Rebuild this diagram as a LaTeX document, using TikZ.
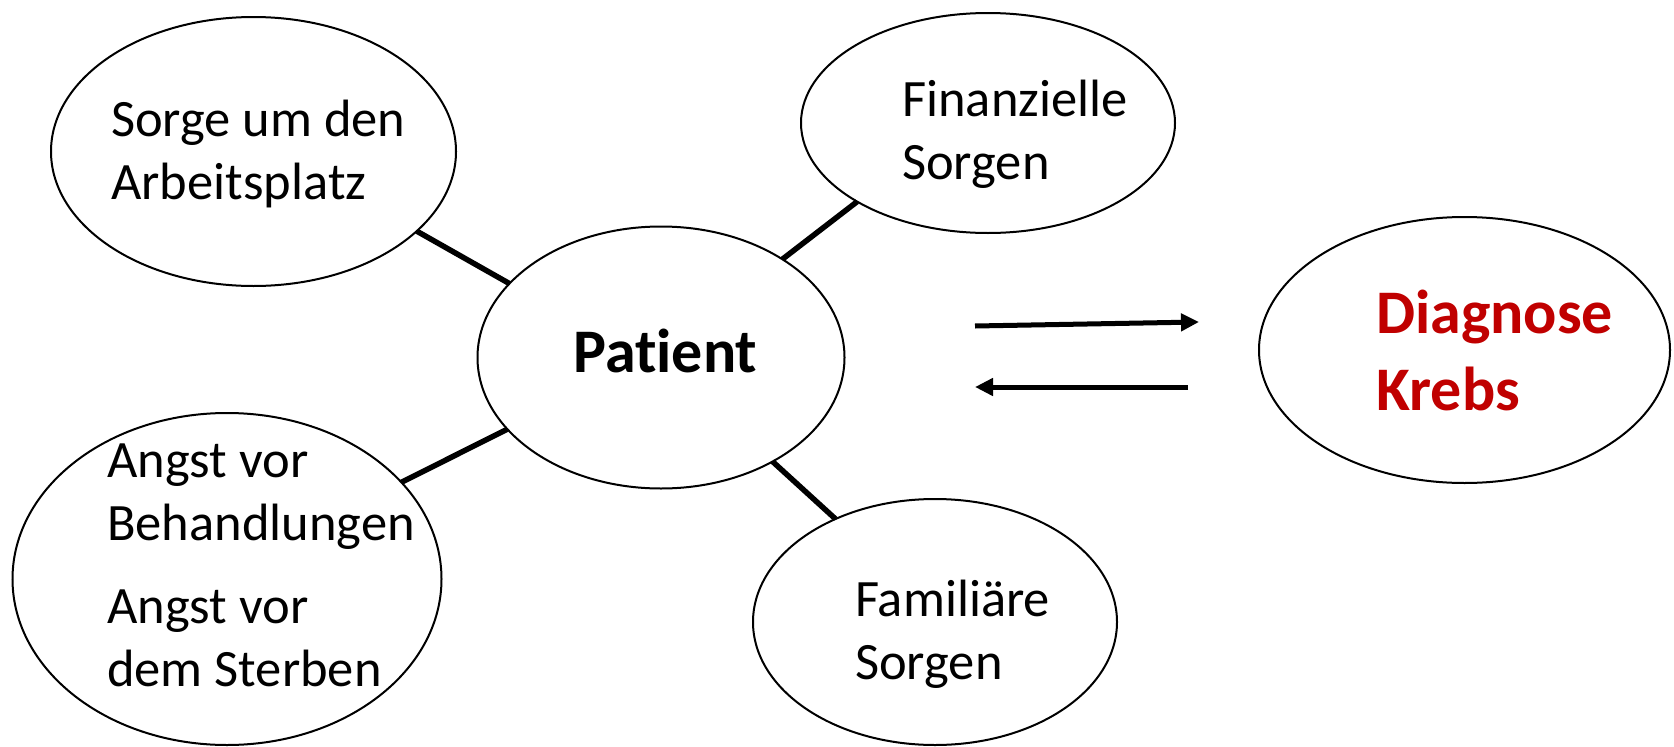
\documentclass[tikz,border=0pt]{standalone}
\usepackage{fontspec}
\setmainfont{Carlito}[Ligatures={NoCommon}]
\usetikzlibrary{arrows.meta,shapes.geometric}
\definecolor{krebsred}{RGB}{192,0,0}
\newcommand\mylines[1]{\begin{tabular}[t]{@{}l@{}}#1\end{tabular}}
\begin{document}
\begin{tikzpicture}[x=1pt,y=-1pt,
 ell/.style={draw, line width=2pt, ellipse, inner sep=0pt, outer sep=0pt},
 link/.style={line width=5.5pt},
 txt/.style={anchor=base west, inner sep=0pt, font=\fontsize{52.5}{63.5}\selectfont},
 btxt/.style={anchor=base west, inner sep=0pt, font=\fontsize{62}{77}\selectfont\bfseries},
 arr/.style={line width=5pt, -{Triangle[length=18pt,width=17pt]}}]
\useasboundingbox (0,0) rectangle (1674,747);
% ellipses
\node[ell, minimum width=405pt, minimum height=269pt] (e1) at (253.5,151.5) {};
\node[ell, minimum width=374pt, minimum height=220pt] (e2) at (988,123) {};
\node[ell, minimum width=367pt, minimum height=262pt] (pat) at (661,357.5) {};
\node[ell, minimum width=411pt, minimum height=266pt] (dia) at (1464.5,350) {};
\node[ell, minimum width=429pt, minimum height=332pt] (e5) at (227,579) {};
\node[ell, minimum width=364pt, minimum height=246pt] (e6) at (935,622) {};
% texts
\node[txt] (t1) at (111,136) {\mylines{Sorge um den\\Arbeitsplatz}};
\node[txt] (t2) at (902,116) {\mylines{Finanzielle\\Sorgen}};
\node[btxt] (tp) at (573,372) {Patient};
\node[btxt, text=krebsred] (td) at (1376,333) {\mylines{Diagnose\\Krebs}};
\node[txt] (t5) at (107,477) {\mylines{Angst vor\\Behandlungen\\[19pt]Angst vor\\dem Sterben}};
\node[txt] (t6) at (855,616) {\mylines{Familiäre\\Sorgen}};
% connectors
\draw[link] (pat.154.4) -- (e1.-26.8);
\draw[link] (pat.39.5) -- (e2.-149.4);
\draw[link] (pat.-155.5) -- (e5.29.7);
\draw[link] (pat.-43.2) -- (e6.134);
% arrows
\coordinate (a1s) at (975,326);
\coordinate (a1e) at (1199,322);
\coordinate (a2s) at (1188,387);
\coordinate (a2e) at (975,387);
\draw[arr] (a1s) -- (a1e);
\draw[arr] (a2s) -- (a2e);
\end{tikzpicture}
\end{document}
